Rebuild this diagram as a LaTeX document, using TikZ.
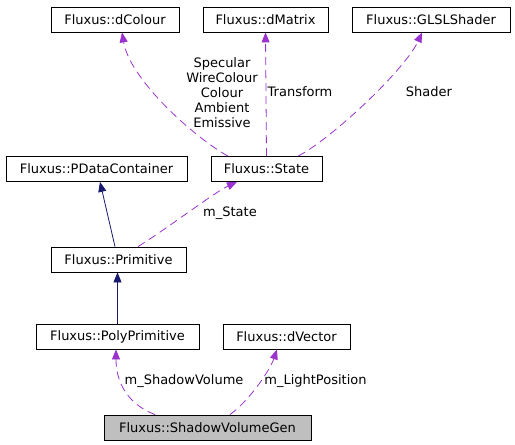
\documentclass[tikz,border=0pt]{standalone}
\usepackage{fontspec}
\setmainfont{DejaVu Sans}
\usetikzlibrary{arrows.meta}
\definecolor{usecol}{HTML}{9A32CD}
\definecolor{inhcol}{HTML}{191970}
\tikzset{
  cls/.style={draw, line width=0.8pt, inner sep=0pt, minimum height=25pt},
  inh/.style={draw=inhcol, line width=0.8pt, -{Triangle[length=10pt,width=8pt]}, inhcol},
  use/.style={draw=usecol, line width=0.8pt, dash pattern=on 8pt off 5pt, -{Triangle[length=10pt,width=8pt]}, usecol},
  lbl/.style={inner sep=0pt, align=center}
}
\begin{document}
\begin{tikzpicture}[x=1pt, y=-1pt, font=\fontsize{13}{15}\selectfont]

    \useasboundingbox (0,0) rectangle (515,445);

    % Clases
    \node[cls, minimum width=128pt] (dcolour) at (115,19.5) {Fluxus::dColour};
    \node[cls, minimum width=125pt] (dmatrix) at (265.5,19.5) {Fluxus::dMatrix};
    \node[cls, minimum width=158pt] (glsl) at (431,19.5) {Fluxus::GLSLShader};
    \node[cls, minimum width=181pt] (pdata) at (96.5,169) {Fluxus::PDataContainer};
    \node[cls, minimum width=111pt] (state) at (266.5,169) {Fluxus::State};
    \node[cls, minimum width=135pt] (prim) at (118.5,259.5) {Fluxus::Primitive};
    \node[cls, minimum width=163pt] (poly) at (117.5,336.5) {Fluxus::PolyPrimitive};
    \node[cls, minimum width=127pt] (dvector) at (286.5,336.5) {Fluxus::dVector};
    \node[cls, minimum width=207pt, fill=black!25] (svgen) at (207.5,427.5) {Fluxus::ShadowVolumeGen};

    % Herencia
    \draw[inh] ([xshift=-3.5pt]prim.north) -- ([xshift=3.5pt]pdata.south);
    \draw[inh] (poly.north) -- (poly.north |- prim.south);

    % Relaciones de uso
    \draw[use] ([xshift=-38.5pt]state.north) .. controls (195,138) and (130,80) .. ([xshift=7pt]dcolour.south);
    \draw[use] (state.north) -- (dmatrix.south);
    \draw[use] ([xshift=31.5pt]state.north) .. controls (330,140) and (405,70) .. ([xshift=-9pt]glsl.south);
    \draw[use] ([xshift=19.5pt]prim.north) .. controls (165,230) and (215,192) .. ([xshift=-29.5pt]state.south);
    \draw[use] ([xshift=-52.5pt]svgen.north) .. controls (130,405) and (116,385) .. ([xshift=-1.5pt]poly.south);
    \draw[use] ([xshift=22.5pt]svgen.north) .. controls (250,400) and (270,370) .. ([xshift=-9.5pt]dvector.south);

    % Etiquetas
    \node[lbl] (lcolour) at (222,93) {Specular\\WireColour\\Colour\\Ambient\\Emissive};
    \node[lbl] (lmatrix) at (300,92) {Transform};
    \node[lbl] (lshader) at (429,92) {Shader};
    \node[lbl] (lstate) at (230,213) {m\_State};
    \node[lbl] (lshadow) at (184,381) {m\_ShadowVolume};
    \node[lbl] (llight) at (315.5,381) {m\_LightPosition};

  \end{tikzpicture}
\end{document}
